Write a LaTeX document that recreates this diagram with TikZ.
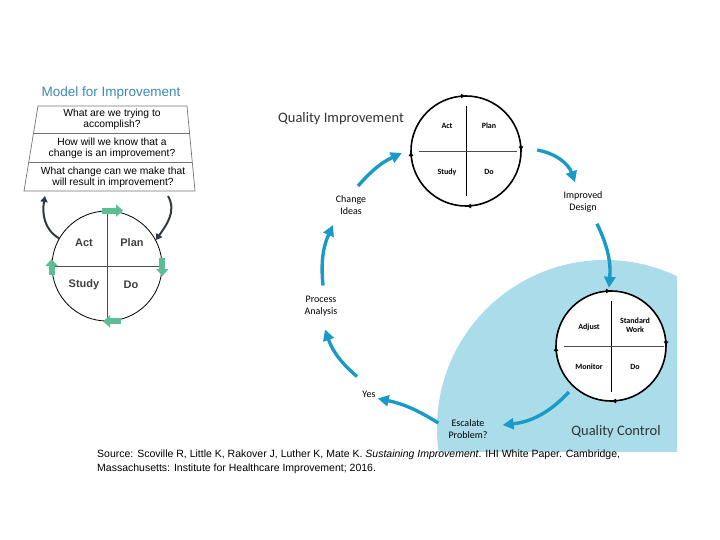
\documentclass[tikz,border=0pt]{standalone}
\usepackage{fontspec}
\setmainfont{Liberation Sans}
\newfontfamily\qfont{Carlito}
\usepackage{tikz}
\usetikzlibrary{arrows.meta,positioning,calc,decorations.markings}
\definecolor{flowblue}{HTML}{1A9BC7}
\definecolor{zoneblue}{HTML}{AADCE9}
\definecolor{pdsagreen}{HTML}{5DBE96}
\definecolor{titleblue}{HTML}{3A8BB5}
\definecolor{slate}{HTML}{2E3A44}

\begin{document}
\begin{tikzpicture}[
      x=1pt, y=1pt,
      flow/.style={draw=flowblue, line width=3.4pt, -{Triangle[length=11pt,width=11pt]}},
      lbl/.style={font=\qfont\fontsize{10}{12.5}\selectfont, align=center, inner sep=0pt},
      cell/.style={font=\qfont\bfseries\fontsize{8}{9.5}\selectfont, align=center, inner sep=0pt},
      ring/.style={circle, minimum size=110pt, inner sep=0pt},
      ringline/.style={line width=1.6pt, postaction={decorate},
        decoration={markings,
          mark=at position 0.25 with {\arrowreversed{Latex[length=5pt,width=5pt]}},
          mark=at position 0.5 with {\arrowreversed{Latex[length=5pt,width=5pt]}},
          mark=at position 0.75 with {\arrowreversed{Latex[length=5pt,width=5pt]}},
          mark=at position 0.999 with {\arrowreversed{Latex[length=5pt,width=5pt]}}}},
      question/.style={font=\fontsize{10.3}{10.8}\selectfont, align=center, inner sep=0pt},
      pdsa/.style={font=\bfseries\fontsize{11}{13}\selectfont, text=black!75, inner sep=0pt},
      greenblock/.style={draw=pdsagreen, line width=6pt, -{Triangle[length=7pt,width=12pt]}},
      turn/.style={draw=slate, line width=2pt, -{Triangle[length=6pt,width=7pt]}}
    ]
    \useasboundingbox (0,0) rectangle (720,-540);

    % Quality control zone in the background
    \begin{scope}
      \clip (0,0) rectangle (677,-451);
      \fill[zoneblue] (605,-428) circle[radius=168pt];
    \end{scope}

    % Model for Improvement (left)
    \node[font=\fontsize{13.5}{15}\selectfont, text=titleblue, inner sep=0pt] (mfi) at (111,-93) {Model for Improvement};
    \coordinate (ttl) at (38,-106);
    \coordinate (ttr) at (187,-106);
    \coordinate (tbr) at (195,-191);
    \coordinate (tbl) at (24,-191);
    \draw[black!55, line width=0.7pt] (ttl) -- (ttr) -- (tbr) -- (tbl) -- cycle;
    \draw[black!55, line width=0.7pt] ($(ttl)!0.318!(tbl)$) -- ($(ttr)!0.318!(tbr)$);
    \draw[black!55, line width=0.7pt] ($(ttl)!0.659!(tbl)$) -- ($(ttr)!0.659!(tbr)$);
    \node[question] (q1) at (112,-119) {What are we trying to\\accomplish?};
    \node[question] (q2) at (112,-148) {How will we know that a\\change is an improvement?};
    \node[question] (q3) at (113,-177) {What change can we make that\\will result in improvement?};

    % PDSA cycle
    \node[circle, draw, line width=0.8pt, minimum size=110pt, inner sep=0pt] (pd) at (107,-266) {};
    \draw[black!70, line width=1pt] (pd.north) -- (pd.south);
    \draw[black!70, line width=1pt] (pd.west) -- (pd.east);
    \node[pdsa] (act) at (84,-243) {Act};
    \node[pdsa] (plan) at (132,-243) {Plan};
    \node[pdsa] (study) at (84,-285) {Study};
    \node[pdsa] (do) at (131,-285) {Do};
    \draw[greenblock] ([xshift=-5]pd.north) -- ([xshift=16]pd.north);
    \draw[greenblock] ([yshift=8]pd.east) -- ([yshift=-10]pd.east);
    \draw[greenblock] ([xshift=14]pd.south) -- ([xshift=-4]pd.south);
    \draw[greenblock] ([yshift=-9]pd.west) -- ([yshift=7]pd.west);
    \draw[turn] (pd.150) to[out=150, in=-100] ([xshift=21,yshift=-5]tbl);
    \draw[turn] ([xshift=-27,yshift=-5]tbr) to[out=-60, in=55] (pd.28);

    % Quality improvement / quality control cycle (right)
    \node[font=\qfont\fontsize{14.5}{16}\selectfont, text=black!80, inner sep=0pt] (qtitle) at (341,-119) {Quality Improvement};
    \node[font=\qfont\fontsize{14.5}{16}\selectfont, text=black!80, inner sep=0pt] (ctitle) at (616,-432) {Quality Control};

    \node[ring] (qi) at (466,-151) {};
    \draw[ringline] (qi.center) circle[radius=55pt];
    \draw[line width=0.7pt] ([yshift=-10]qi.north) -- ([yshift=10]qi.south);
    \draw[black!70, line width=0.6pt] ([xshift=8]qi.west) -- ([xshift=-4]qi.east);
    \node[cell] at (447,-126) {Act};
    \node[cell] at (489,-126) {Plan};
    \node[cell] at (447,-172) {Study};
    \node[cell] at (489,-172) {Do};

    \node[ring, fill=white] (qc) at (611,-346) {};
    \draw[ringline] (qc.center) circle[radius=55pt];
    \draw[line width=0.7pt] ([yshift=-10]qc.north) -- ([yshift=9]qc.south);
    \draw[black!70, line width=0.6pt] ([xshift=8]qc.west) -- ([xshift=-2]qc.east);
    \node[cell] at (589,-327) {Adjust};
    \node[cell] at (635,-325) {Standard\\Work};
    \node[cell] at (589,-367) {Monitor};
    \node[cell] at (635,-367) {Do};

    \node[lbl] (ci) at (351,-205) {Change\\Ideas};
    \node[lbl] (idz) at (583,-202) {Improved\\Design};
    \node[lbl] (pa) at (321,-306) {Process\\Analysis};
    \node[lbl] (yes) at (369,-394) {Yes};
    \node[lbl] (ep) at (468,-429) {Escalate\\Problem?};

    \draw[flow] ([xshift=7,yshift=9]ci.north) to[bend left=12] ([xshift=-9,yshift=-2]qi.west);
    \draw[flow] ([xshift=16,yshift=1]qi.east) to[bend left=30] ([xshift=-8,yshift=9]idz.north);
    \draw[flow] ([xshift=14,yshift=-11]idz.south) to[bend left=15] ([xshift=-2,yshift=3]qc.north);
    \draw[flow] ([xshift=-3,yshift=-7]qc.south west) to[bend left=20] ([xshift=15,yshift=4]ep.east);
    \draw[flow] ([xshift=-10,yshift=6]ep.west) to[bend right=10] ([xshift=2,yshift=-1]yes.south east);
    \draw[flow] ([xshift=-12,yshift=14]yes.north) to[bend left=15] ([xshift=4,yshift=-13]pa.south);
    \draw[flow] ([xshift=2,yshift=10]pa.north) to[bend left=15] ([xshift=-18,yshift=-10]ci.south);

    % Source line
    \node[font=\fontsize{10.5}{14}\selectfont, align=left, anchor=west, inner sep=0pt] (src) at (97,-462)
      {Source: Scoville R, Little K, Rakover J, Luther K, Mate K. \textit{Sustaining Improvement}. IHI White Paper. Cambridge,\\
       Massachusetts: Institute for Healthcare Improvement; 2016.};
  \end{tikzpicture}
\end{document}
